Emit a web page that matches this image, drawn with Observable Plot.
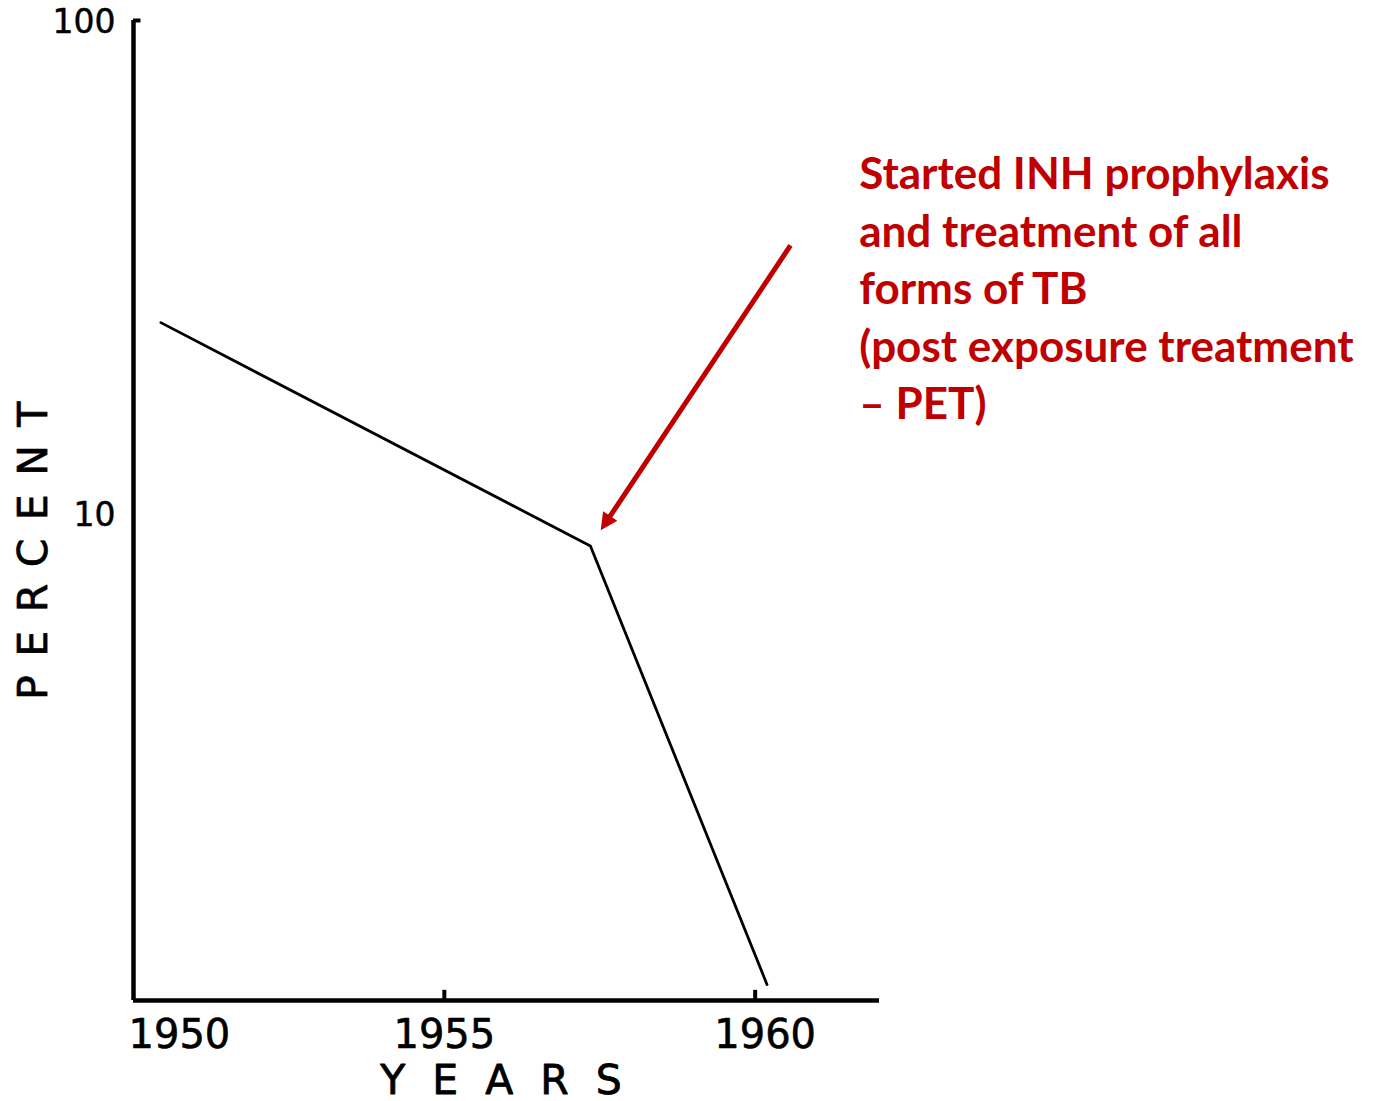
<!DOCTYPE html>
<html>
<head>
<meta charset="utf-8">
<script src="https://cdn.jsdelivr.net/npm/d3@7"></script>
<script src="https://cdn.jsdelivr.net/npm/@observablehq/plot@0.6"></script>
<style>
  html, body { margin: 0; padding: 0; background: #fff; }
  #chart { width: 1382px; height: 1101px; }
</style>
</head>
<body>
<div id="chart"></div>
<script>
// Data
const years = [1950.44, 1957.35, 1960.19];
const percents = [24.4, 8.6, 1.11];

const xTicks = [1950, 1955, 1960];
const yTicks = [10, 100];
const xTickLabels = ["1950", "1955", "1960"];
const yTickLabels = ["10", "100"];

const annotationText = "Started INH prophylaxis\nand treatment of all\nforms of TB\n(post exposure treatment\n– PET)";
const annotationAt = [{x: 1961.69, y: 55.0}];
const arrowFrom = [1960.568, 34.98];
const arrowTo = [1957.637, 9.758];

const xDomain = [1950, 1962];
const yDomain = [1.03, 100];

const series = years.map((x, i) => ({x, y: percents[i]}));
const xTickData = xTicks.map((x, i) => ({x, label: xTickLabels[i]}));
const yTickData = yTicks.map((y, i) => ({y, label: yTickLabels[i]}));

const red = "#C00000";
const letterFont = "DejaVu Sans";

const chart = Plot.plot({
  width: 1382,
  height: 1101,
  marginLeft: 133,
  marginRight: 503,
  marginTop: 20,
  marginBottom: 101,
  style: {background: "#fff", overflow: "visible"},
  x: {domain: xDomain, axis: null},
  y: {type: "log", domain: yDomain, axis: null},
  marks: [
    // axes lines
    Plot.ruleX([xDomain[0]], {stroke: "#000", strokeWidth: 4.5}),
    Plot.ruleY([yDomain[0]], {stroke: "#000", strokeWidth: 4.5}),
    // small tick marks
    Plot.ruleX(xTickData.slice(1), {x: "x", y1: yDomain[0], y2: 1.08, stroke: "#000", strokeWidth: 4}),
    Plot.ruleY([yDomain[1]], {x1: xDomain[0], x2: 1950.12, stroke: "#000", strokeWidth: 4}),
    // x tick labels
    Plot.text(xTickData.filter(d => d.x === 1950), {
      x: "x", text: "label", frameAnchor: "bottom", lineAnchor: "middle", dy: 35, dx: -5,
      textAnchor: "start", fontFamily: letterFont, fontSize: 40, fill: "#000", stroke: "#000", strokeWidth: 0.6
    }),
    Plot.text(xTickData.filter(d => d.x === 1955), {
      x: "x", text: "label", frameAnchor: "bottom", lineAnchor: "middle", dy: 35, dx: 0,
      textAnchor: "middle", fontFamily: letterFont, fontSize: 40, fill: "#000", stroke: "#000", strokeWidth: 0.6
    }),
    Plot.text(xTickData.filter(d => d.x === 1960), {
      x: "x", text: "label", frameAnchor: "bottom", lineAnchor: "middle", dy: 35, dx: 10,
      textAnchor: "middle", fontFamily: letterFont, fontSize: 40, fill: "#000", stroke: "#000", strokeWidth: 0.6
    }),
    // y tick labels
    Plot.text(yTickData, {
      y: "y", text: "label", frameAnchor: "left", dx: -18, dy: 2,
      textAnchor: "end", fontFamily: letterFont, fontSize: 33, fill: "#000", stroke: "#000", strokeWidth: 0.5
    }),
    // axis titles
    Plot.text(["PERCENT"], {
      frameAnchor: "left", textAnchor: "middle", lineAnchor: "middle", dx: -100, dy: 31, rotate: -90,
      fontFamily: letterFont, fontSize: 41, fill: "#000", stroke: "#000", strokeWidth: 0.7, className: "spaced-y"
    }),
    Plot.text(["YEARS"], {
      frameAnchor: "bottom", textAnchor: "middle", lineAnchor: "middle", dy: 80, dx: 8,
      fontFamily: letterFont, fontSize: 41, fill: "#000", stroke: "#000", strokeWidth: 0.8, className: "spaced-x"
    }),
    // data line
    Plot.line(series, {x: "x", y: "y", stroke: "#000", strokeWidth: 2.8}),
    // annotation arrow (shaft; filled head added as marker below)
    Plot.link([{x1: arrowFrom[0], y1: arrowFrom[1], x2: arrowTo[0], y2: arrowTo[1]}], {
      x1: "x1", y1: "y1", x2: "x2", y2: "y2",
      stroke: red, strokeWidth: 5, className: "anno-arrow"
    }),
    // annotation text
    Plot.text(annotationAt, {
      x: "x", y: "y", text: () => annotationText,
      textAnchor: "start", lineAnchor: "top", lineHeight: 1.307, dx: -1,
      fontFamily: "Lato", fontWeight: "bold", fontSize: 44, fill: red
    })
  ]
});

document.getElementById("chart").appendChild(chart);
const svg = d3.select(chart.tagName.toLowerCase() === "svg" ? chart : chart.querySelector("svg"));
svg.selectAll(".spaced-y text").attr("letter-spacing", 18.5);
svg.selectAll(".spaced-x text").attr("letter-spacing", 27);

// filled arrowhead
const defs = svg.insert("defs", ":first-child");
defs.append("marker")
  .attr("id", "anno-head")
  .attr("viewBox", "0 0 10 10")
  .attr("refX", 2)
  .attr("refY", 5)
  .attr("markerWidth", 4.4)
  .attr("markerHeight", 3.4)
  .attr("markerUnits", "strokeWidth")
  .attr("orient", "auto")
  .append("path")
  .attr("d", "M0,0L10,5L0,10z")
  .attr("fill", red);
svg.selectAll(".anno-arrow path, .anno-arrow line").attr("marker-end", "url(#anno-head)");
</script>
</body>
</html>
